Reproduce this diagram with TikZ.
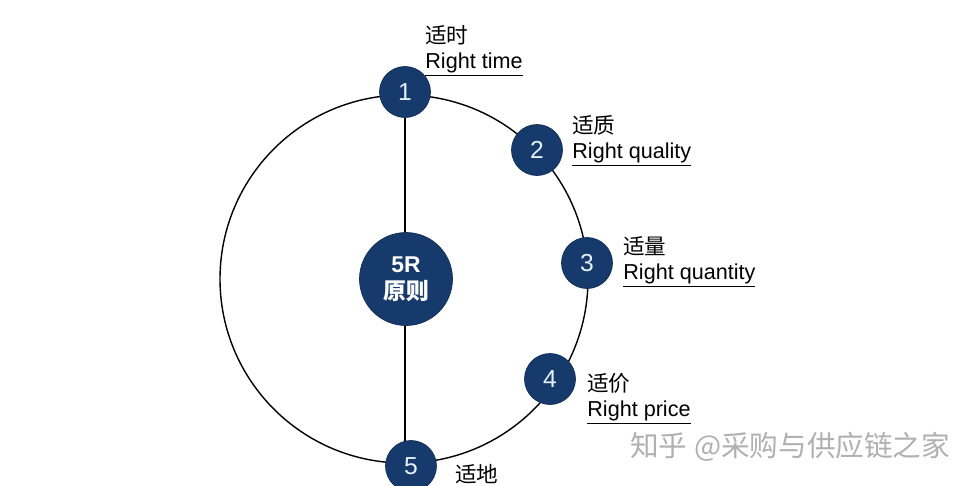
\documentclass[tikz,border=0pt]{standalone}
\usepackage{fontspec}
\setmainfont{Liberation Sans}
\newfontfamily\cjk{Noto Sans CJK SC}
\usetikzlibrary{positioning}
\definecolor{navy}{HTML}{163A6B}
\definecolor{digit}{HTML}{E4F1FB}
\definecolor{mark}{HTML}{B0B0B0}
\tikzset{
    ring/.style={
        draw=black,
        line width=0.8pt
    },
    small ball/.style={
        circle, fill=navy, draw=navy!80!black,
        minimum size=1.02cm, inner sep=0pt,
        text=digit, font=\fontsize{14}{14}\selectfont
    },
    big ball/.style={
        circle, fill=navy, draw=navy!80!black,
        minimum size=1.86cm, inner sep=0pt,
        text=white, align=center,
        font=\bfseries\fontsize{13}{15.5}\selectfont
    },
    tag/.style={
        anchor=west, inner sep=0pt, align=left,
        font=\fontsize{12.3}{14.2}\selectfont
    }
}

\begin{document}
\begin{tikzpicture}[x=0.02cm, y=-0.02cm]
                \useasboundingbox (0,0) rectangle (975,485);
                \coordinate (O) at (404, 279);
                \coordinate (P1) at (405, 92);
                \coordinate (P2) at (537, 150);
                \coordinate (P3) at (587, 263);
                \coordinate (P4) at (550, 379);
                \coordinate (P5) at (411, 466);
                % outer ring and spoke
                \draw [ring] (O) circle (184);
                \draw [ring] (P1) -- (405, 279) -- (P5 -| P1);
                % balls
                \node [big ball] (C) at (406, 279) {5R\\{\cjk 原则}};
                \node [small ball] (R1) at (P1) {1};
                \node [small ball] (R2) at (P2) {2};
                \node [small ball] (R3) at (P3) {3};
                \node [small ball] (R4) at (P4) {4};
                \node [small ball] (R5) at (P5) {5};
                % labels
                \node [tag] (T1) at (425, 51) {{\cjk 适时}\\\underline{Right time}};
                \node [tag] (T2) at (572, 141) {{\cjk 适质}\\\underline{Right quality}};
                \node [tag] (T3) at (623, 262) {{\cjk 适量}\\\underline{Right quantity}};
                \node [tag] (T4) at (587, 399) {{\cjk 适价}\\\underline{Right price}};
                \node [tag] (T5) at (455, 474) {{\cjk 适地}};
                \node [anchor=west, inner sep=0pt, text=mark, font=\cjk\fontsize{16.3}{16.3}\selectfont] (W) at (630, 447) {知乎 @采购与供应链之家};
            \end{tikzpicture}
\end{document}
